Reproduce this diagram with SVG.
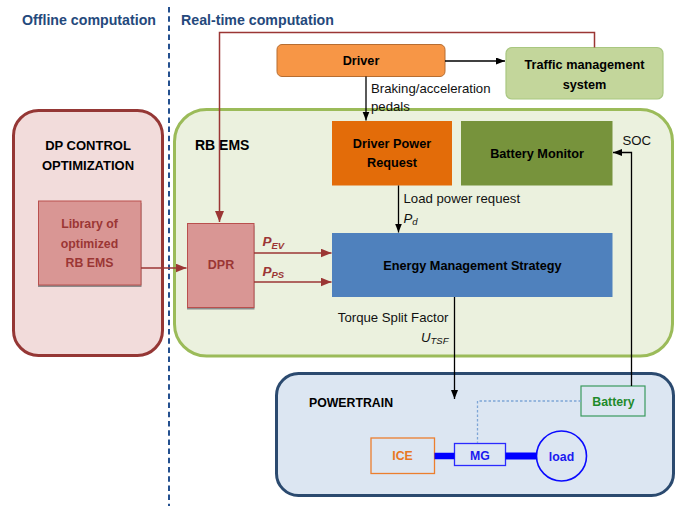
<svg xmlns="http://www.w3.org/2000/svg" width="681" height="506" viewBox="0 0 681 506">
  <style>
    text { font-family: "Liberation Sans", Arial, sans-serif; }
    .title { font-size: 14.2px; font-weight: bold; fill: #24497c; }
    .hdr { font-size: 13px; font-weight: bold; fill: #000; }
    .bold { font-size: 12.7px; font-weight: bold; fill: #000; }
    .lbl { font-size: 13.2px; fill: #111; }
    .red { font-weight: bold; fill: #9b3634; }
    .pt { font-size: 12.3px; font-weight: bold; }
    .line { fill: none; stroke: #000; stroke-width: 1.3; }
    .rline { fill: none; stroke: #9b3634; stroke-width: 1.5; }
  </style>
  <defs>
    <marker id="arrow" markerUnits="userSpaceOnUse" markerWidth="10" markerHeight="8" refX="9" refY="3.5" orient="auto">
      <path d="M0,0 L9,3.5 L0,7 z" fill="#000"/>
    </marker>
    <marker id="arrowRed" markerUnits="userSpaceOnUse" markerWidth="12" markerHeight="10" refX="11" refY="4.5" orient="auto">
      <path d="M0,0 L11,4.5 L0,9 z" fill="#9b3634"/>
    </marker>
  </defs>

  <rect width="681" height="506" fill="#fff"/>

  <!-- section titles and divider -->
  <text class="title" x="22" y="25">Offline computation</text>
  <text class="title" x="181" y="25">Real-time computation</text>
  <line x1="169" y1="7" x2="169" y2="506" stroke="#24508f" stroke-width="2" stroke-dasharray="5.5 3.7"/>

  <!-- containers -->
  <g id="dp-control">
    <rect x="13.5" y="110.5" width="149" height="245" rx="25" fill="#f2dcdb" stroke="#953735" stroke-width="3"/>
    <text class="hdr" x="88" y="150" text-anchor="middle">DP CONTROL</text>
    <text class="hdr" x="88" y="170" text-anchor="middle">OPTIMIZATION</text>
  </g>

  <g id="rb-ems">
    <rect x="174.5" y="109.5" width="498" height="246.5" rx="32" fill="#ebf1de" stroke="#9bbb59" stroke-width="3"/>
    <text x="195" y="149.5" style="font-size:14px;font-weight:bold" fill="#000">RB EMS</text>
  </g>

  <g id="powertrain">
    <rect x="276.5" y="373.5" width="397" height="122" rx="22" fill="#dce6f2" stroke="#2b4a6f" stroke-width="3"/>
    <text class="pt" x="309" y="407" fill="#000">POWERTRAIN</text>
  </g>

  <!-- nodes -->
  <g id="driver">
    <rect x="277" y="44.5" width="168" height="32" rx="5" fill="#f79646" stroke="#b66d31" stroke-width="1"/>
    <text class="bold" x="361" y="64.5" text-anchor="middle">Driver</text>
  </g>

  <g id="traffic">
    <rect x="506" y="47.5" width="157" height="51.5" rx="6" fill="#c3d69b" stroke="#a9c780" stroke-width="1.2"/>
    <text class="bold" x="584.5" y="68.5" text-anchor="middle">Traffic management</text>
    <text class="bold" x="584.5" y="88.5" text-anchor="middle">system</text>
  </g>

  <g id="library">
    <rect x="38" y="203" width="103.5" height="84" fill="#8c8c8c"/>
    <rect x="38.5" y="201" width="102.5" height="84" fill="#d99694" stroke="#b9504e" stroke-width="1"/>
    <text class="red" x="89.5" y="228" text-anchor="middle" font-size="12.3">Library of</text>
    <text class="red" x="89.5" y="248" text-anchor="middle" font-size="12.3">optimized</text>
    <text class="red" x="89.5" y="267" text-anchor="middle" font-size="12.3">RB EMS</text>
  </g>

  <g id="dpr">
    <rect x="187" y="225.5" width="67.5" height="84" fill="#8c8c8c"/>
    <rect x="187.5" y="223.5" width="66.5" height="84" fill="#d99694" stroke="#b9504e" stroke-width="1"/>
    <text class="red" x="221" y="269" text-anchor="middle" font-size="12.5">DPR</text>
  </g>

  <g id="driver-power-request">
    <rect x="332" y="121" width="120" height="64.5" fill="#e36c09"/>
    <text class="bold" x="392" y="147.5" text-anchor="middle">Driver Power</text>
    <text class="bold" x="392" y="166.5" text-anchor="middle">Request</text>
  </g>

  <g id="battery-monitor">
    <rect x="461" y="121" width="151.5" height="64.5" fill="#77933c"/>
    <text class="bold" x="537" y="158" text-anchor="middle">Battery Monitor</text>
  </g>

  <g id="ems">
    <rect x="332" y="233" width="280.5" height="64" fill="#4f81bd"/>
    <text class="bold" x="472.5" y="269.5" text-anchor="middle">Energy Management Strategy</text>
  </g>

  <g id="battery">
    <rect x="581" y="386" width="64" height="30" fill="#dce6f2" stroke="#3a9a5e" stroke-width="1.2"/>
    <text class="pt" x="613.5" y="406" text-anchor="middle" fill="#1e8a2a" font-size="12.5">Battery</text>
  </g>

  <g id="ice">
    <rect x="371" y="438" width="63.5" height="35.5" fill="#dce6f2" stroke="#ec7f2e" stroke-width="1.3"/>
    <text class="pt" x="402.5" y="460" text-anchor="middle" fill="#e87722" font-size="12.5">ICE</text>
  </g>

  <g id="mg">
    <rect x="454.5" y="443.5" width="51" height="22" fill="#dce6f2" stroke="#2a2aff" stroke-width="1.3"/>
    <text class="pt" x="480" y="460" text-anchor="middle" fill="#1a1af0" font-size="12.5">MG</text>
  </g>

  <g id="load">
    <circle cx="561.5" cy="456" r="25" fill="#dce6f2" stroke="#0a0aff" stroke-width="1.6"/>
    <text class="pt" x="561.5" y="460.5" text-anchor="middle" fill="#1a1af0" font-size="12.5">load</text>
  </g>

  <!-- connectors -->
  <g id="connectors">
    <!-- traffic feedback to DPR -->
    <path class="rline" d="M594.5,47.5 V32.5 H219.5 V222" marker-end="url(#arrowRed)"/>
    <!-- driver to traffic system -->
    <path class="line" d="M445,61 H505" marker-end="url(#arrow)"/>
    <!-- driver pedals -->
    <path class="line" d="M366,76.5 V120.5" marker-end="url(#arrow)"/>
    <text class="lbl" x="371" y="93">Braking/acceleration</text>
    <text class="lbl" x="371" y="111">pedals</text>
    <!-- library to DPR -->
    <path class="rline" d="M141,268 H186.5" marker-end="url(#arrowRed)"/>
    <!-- DPR outputs -->
    <path class="rline" d="M254,253 H331.5" marker-end="url(#arrowRed)"/>
    <path class="rline" d="M254,282 H331.5" marker-end="url(#arrowRed)"/>
    <text x="262.5" y="246" fill="#9b3634" font-weight="bold" font-style="italic" font-size="13.5">P<tspan font-size="9.5" dy="2.5">EV</tspan></text>
    <text x="262.5" y="275.5" fill="#9b3634" font-weight="bold" font-style="italic" font-size="13.5">P<tspan font-size="9.5" dy="2.5">PS</tspan></text>
    <!-- load power request -->
    <path class="line" d="M398.5,185.5 V232.5" marker-end="url(#arrow)"/>
    <text class="lbl" x="403.5" y="203">Load power request</text>
    <text class="lbl" x="403.5" y="222.5" font-style="italic">P<tspan font-size="9.5" dy="2">d</tspan></text>
    <!-- EMS to powertrain -->
    <path class="line" d="M454.5,297 V399" marker-end="url(#arrow)"/>
    <text class="lbl" x="448.5" y="321.5" text-anchor="end">Torque Split Factor</text>
    <text class="lbl" x="448.5" y="341.5" text-anchor="end" font-style="italic">U<tspan font-size="9.5" dy="2">TSF</tspan></text>
    <!-- SOC feedback -->
    <path class="line" d="M631.5,386 V152.5 H613" marker-end="url(#arrow)"/>
    <text class="lbl" x="622.5" y="145">SOC</text>
    <!-- battery to MG electrical link -->
    <path d="M581,401 H477.5 V443" fill="none" stroke="#7ea6d6" stroke-width="1.3" stroke-dasharray="2.5 2"/>
    <!-- mechanical shafts -->
    <line x1="434.5" y1="456" x2="454.5" y2="456" stroke="#0000ff" stroke-width="6.5"/>
    <line x1="505.5" y1="456" x2="536.5" y2="456" stroke="#0000ff" stroke-width="7"/>
  </g>
</svg>
